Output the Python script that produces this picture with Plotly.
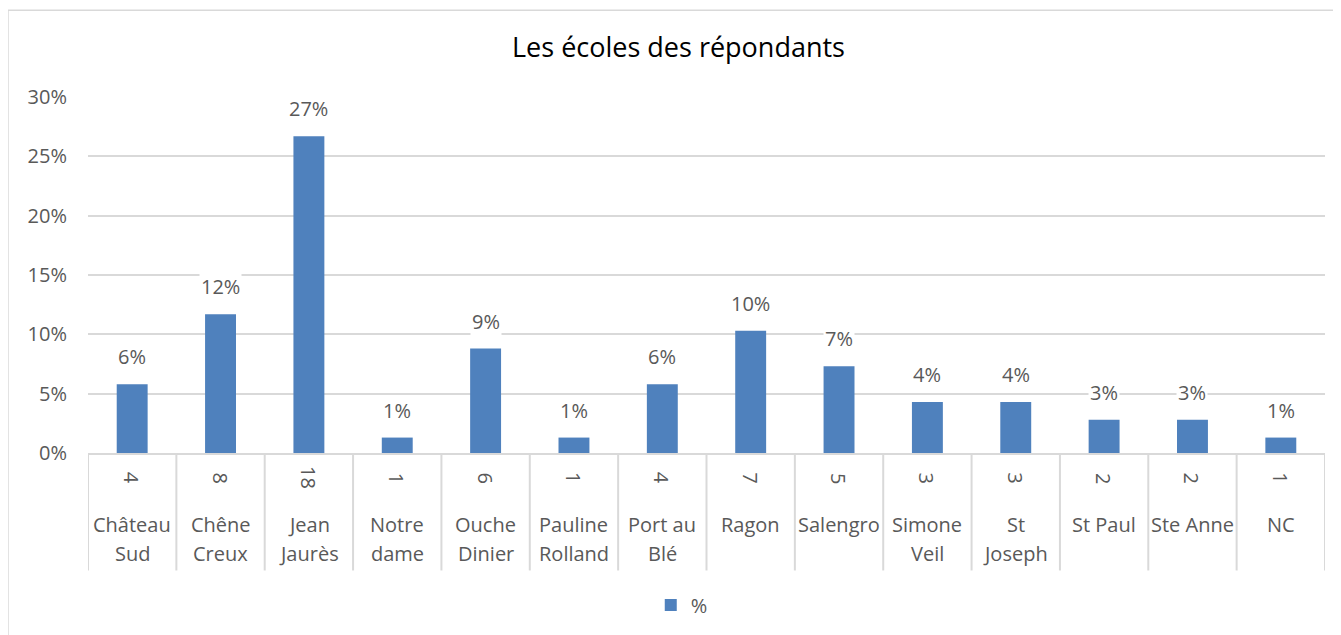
import plotly.graph_objects as go

schools = ["Château<br>Sud", "Chêne<br>Creux", "Jean<br>Jaurès", "Notre<br>dame", "Ouche<br>Dinier",
           "Pauline<br>Rolland", "Port au<br>Blé", "Ragon", "Salengro", "Simone<br>Veil",
           "St<br>Joseph", "St Paul", "Ste Anne", "NC"]
counts = [4, 8, 18, 1, 6, 1, 4, 7, 5, 3, 3, 2, 2, 1]
percents = [0.058, 0.117, 0.267, 0.013, 0.088, 0.013, 0.058, 0.103, 0.073, 0.043, 0.043, 0.028, 0.028, 0.013]
pct_labels = ["6%", "12%", "27%", "1%", "9%", "1%", "6%", "10%", "7%", "4%", "4%", "3%", "3%", "1%"]
y_ticks = [0, 0.05, 0.10, 0.15, 0.20, 0.25, 0.30]
y_ticklabels = ["0%", "5%", "10%", "15%", "20%", "25%", "30%"]

FONT = "Open Sans"
GREY = "#595959"
LINE = "#d9d9d9"
BAR = "#4f81bd"

idx = list(range(len(schools)))

fig = go.Figure()
fig.add_trace(go.Bar(x=idx, y=percents, name="%", marker=dict(color=BAR, line=dict(width=0)),
                     showlegend=True))

annotations = []
for i, (p, lab, c, s) in enumerate(zip(percents, pct_labels, counts, schools)):
    annotations.append(dict(x=i, y=p, xref="x", yref="y", text=lab, showarrow=False,
                            yanchor="bottom", yshift=12, bgcolor="white",
                            font=dict(family=FONT, size=20, color=GREY)))
    annotations.append(dict(x=i, y=0, xref="x", yref="paper", text=str(c), showarrow=False,
                            textangle=90, yanchor="middle", yshift=-25,
                            font=dict(family=FONT, size=20, color=GREY)))
    for k, line in enumerate(s.split("<br>")):
        annotations.append(dict(x=i, y=0, xref="x", yref="paper", text=line, showarrow=False,
                                yanchor="middle", yshift=-71 - 29 * k,
                                font=dict(family=FONT, size=20, color=GREY)))

shapes = []
for i in range(len(schools) + 1):
    shapes.append(dict(type="line", xref="x", yref="paper", x0=i - 0.5, x1=i - 0.5,
                       y0=0, y1=-0.33, line=dict(color=LINE, width=2)))
# chart border
shapes.append(dict(type="rect", xref="paper", yref="paper", x0=-0.0647, x1=1.1,
                   y0=1.244, y1=-1.0, line=dict(color=LINE, width=1.5), layer="below"))

fig.update_layout(
    width=1341, height=635,
    margin=dict(l=80, r=24, t=89, b=190),
    paper_bgcolor="white", plot_bgcolor="white",
    title=dict(text="Les écoles des répondants", x=0.5, xanchor="center", y=1 - 40 / 635,
               yanchor="middle", font=dict(family=FONT, size=27, color="black")),
    bargap=0.65,
    xaxis=dict(range=[-0.5, len(schools) - 0.5], showticklabels=False, showgrid=False,
               zeroline=False, showline=True, linecolor=LINE, linewidth=2, ticks=""),
    yaxis=dict(range=[0, 0.30], tickvals=y_ticks, ticktext=y_ticklabels, showgrid=True,
               gridcolor=LINE, gridwidth=1.5, zeroline=False, showline=False,
               tickfont=dict(family=FONT, size=20, color=GREY), ticks="", ticklabelstandoff=20),
    legend=dict(orientation="h", x=0.48, xanchor="center", y=-0.427, yanchor="middle",
                font=dict(family=FONT, size=20, color=GREY)),
    annotations=annotations,
    shapes=shapes,
)

fig.write_html("out.html")
